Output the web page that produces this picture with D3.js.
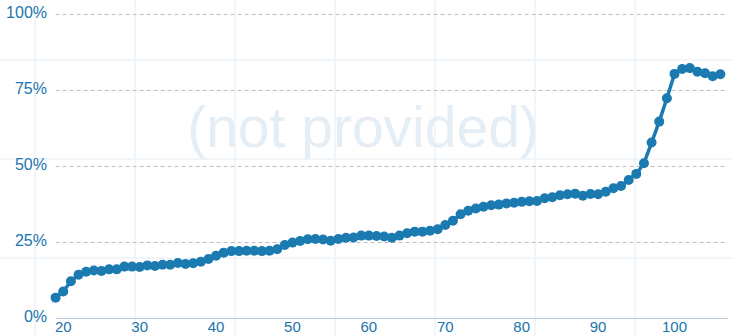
<!DOCTYPE html>
<html>
<head>
<meta charset="utf-8">
<script src="https://cdn.jsdelivr.net/npm/d3@7"></script>
<style>
  body { margin: 0; background: #fff; }
  svg { display: block; font-family: "Liberation Sans", Arial, sans-serif; }
  .grid line { stroke: #bdbdbd; stroke-dasharray: 4 3; }
  .tick-label { fill: #1a74ad; }
</style>
</head>
<body>
<div id="vis"></div>
<script>
'use strict'

// ages on the x axis
const ages = [19, 20, 21, 22, 23, 24, 25, 26, 27, 28, 29, 30, 31, 32, 33, 34, 35, 36, 37, 38,
  39, 40, 41, 42, 43, 44, 45, 46, 47, 48, 49, 50, 51, 52, 53, 54, 55, 56, 57, 58,
  59, 60, 61, 62, 63, 64, 65, 66, 67, 68, 69, 70, 71, 72, 73, 74, 75, 76, 77, 78,
  79, 80, 81, 82, 83, 84, 85, 86, 87, 88, 89, 90, 91, 92, 93, 94, 95, 96, 97, 98,
  99, 100, 101, 102, 103, 104, 105, 106]

// share in percent, one per age
const shares = [6.8, 8.8, 12.2, 14.3, 15.3, 15.7, 15.6, 16.1, 16.1, 17.0, 17.0, 16.9, 17.4, 17.2, 17.6, 17.6, 18.2, 17.9, 18.1, 18.6,
  19.5, 20.6, 21.6, 22.1, 22.1, 22.2, 22.2, 22.1, 22.2, 22.7, 24.1, 24.9, 25.4, 26.0, 26.1, 25.9, 25.5, 26.1, 26.5, 26.6,
  27.2, 27.2, 27.1, 26.9, 26.5, 27.2, 28.0, 28.5, 28.5, 28.8, 29.3, 30.7, 32.1, 34.2, 35.4, 36.1, 36.7, 37.2, 37.4, 37.8,
  38.0, 38.3, 38.5, 38.6, 39.5, 39.8, 40.5, 40.8, 41.0, 40.3, 40.9, 40.8, 41.6, 42.8, 43.5, 45.5, 47.5, 51.0, 57.8, 64.7,
  72.4, 80.4, 82.0, 82.3, 81.1, 80.6, 79.6, 80.3]

const xTicks = [20, 30, 40, 50, 60, 70, 80, 90, 100]
const yTicks = [0, 25, 50, 75, 100]
const watermark = '(not provided)'

const dataset = ages.map((a, i) => ({ age: a, share: shares[i] }))

drawChart(dataset)

function drawChart(dataset) {

  const totalWidth = 732
  const totalHeight = 336
  const colour = '#1b7ab0'

  //
  // SCALES
  //

  const x = d3.scaleLinear()
    .domain([19, 107])
    .range([55.6, 728])

  const y = d3.scaleLinear()
    .domain([0, 100])
    .range([318.3, 14.3])

  const svg = d3.select('div#vis')
    .append('svg')
      .attr('width', totalWidth)
      .attr('height', totalHeight)

  // faint background squares
  const bg = svg.append('g')
    .attr('stroke', '#f1f6fb')
    .attr('stroke-width', 2)

  bg.selectAll('line.v')
    .data([35, 135, 235, 335, 435, 535, 635])
    .join('line')
      .attr('class', 'v')
      .attr('x1', d => d).attr('x2', d => d)
      .attr('y1', 0).attr('y2', totalHeight)

  bg.selectAll('line.h')
    .data([60, 159, 258])
    .join('line')
      .attr('class', 'h')
      .attr('x1', 0).attr('x2', totalWidth)
      .attr('y1', d => d).attr('y2', d => d)

  // watermark
  svg.append('text')
    .attr('x', 363)
    .attr('y', 147)
    .attr('text-anchor', 'middle')
    .attr('font-size', 57)
    .attr('fill', '#e5edf5')
    .text(watermark)

  //
  // GRID & AXES
  //

  svg.append('g')
    .classed('grid', true)
    .selectAll('line')
    .data(yTicks.filter(d => d > 0))
    .join('line')
      .attr('x1', x(19)).attr('x2', 725)
      .attr('y1', d => Math.round(y(d)) + 0.5)
      .attr('y2', d => Math.round(y(d)) + 0.5)

  svg.append('line')
    .attr('x1', x(19)).attr('x2', x(107))
    .attr('y1', 318.5).attr('y2', 318.5)
    .attr('stroke', '#b4cadf')

  svg.append('g')
    .selectAll('text')
    .data(yTicks)
    .join('text')
      .classed('tick-label', true)
      .attr('x', 47)
      .attr('y', d => y(d) + 3.5)
      .attr('text-anchor', 'end')
      .attr('font-size', 16)
      .text(d => d + '%')

  svg.append('g')
    .selectAll('text')
    .data(xTicks)
    .join('text')
      .classed('tick-label', true)
      .attr('x', d => x(d))
      .attr('y', 332)
      .attr('text-anchor', 'middle')
      .attr('font-size', 15)
      .text(d => d)

  //
  // DRAW DATA
  //

  const line = d3.line()
    .x(d => x(d.age))
    .y(d => y(d.share))

  svg.append('path')
    .datum(dataset)
    .attr('d', line)
    .attr('fill', 'none')
    .attr('stroke', colour)
    .attr('stroke-width', 3.5)
    .attr('stroke-linejoin', 'round')

  svg.append('g')
    .selectAll('circle')
    .data(dataset)
    .join('circle')
      .attr('cx', d => x(d.age))
      .attr('cy', d => y(d.share))
      .attr('r', 5)
      .attr('fill', colour)

}
</script>
</body>
</html>
